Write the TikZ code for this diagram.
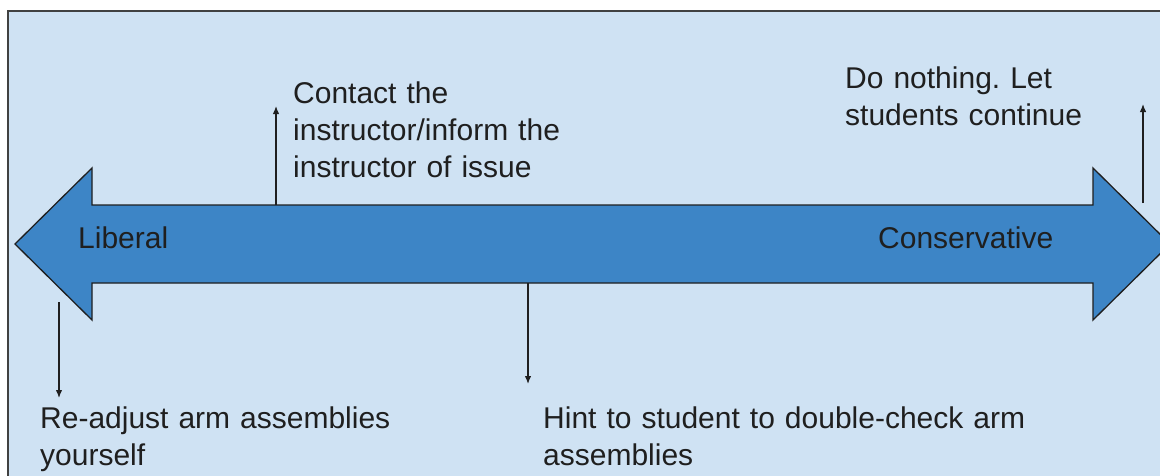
\documentclass[tikz,border=0pt]{standalone}
\usepackage{fontspec}
\setmainfont{Liberation Sans}
\usetikzlibrary{arrows.meta}
\definecolor{panel}{HTML}{CFE2F3}
\definecolor{band}{HTML}{3D85C6}
\definecolor{ink}{HTML}{1F1F1F}
\frenchspacing
\begin{document}
\begin{tikzpicture}[x=1pt,y=-1pt,
  label text/.style={inner sep=0pt, anchor=base west, align=left,
    text width=#1, text=ink, font=\fontsize{30}{37}\selectfont},
  label text/.default=400pt,
  pointer/.style={draw=ink, line width=1.3pt, -{Latex[length=8pt,width=6.5pt]}}]
  \useasboundingbox (0,0) rectangle (1160,475);
  \clip (0,0) rectangle (1160,475);
  % panel
  \draw[fill=panel, draw=ink!85, line width=1.8pt] (8,11) rectangle (1170,485);
  % two-headed scale
  \draw[fill=band, draw=ink, line width=1.3pt, line join=miter]
    (15,244) -- (92,168) -- (92,205) -- (1093,205) -- (1093,168) -- (1170,244)
    -- (1093,320) -- (1093,283) -- (92,283) -- (92,320) -- cycle;
  \node[label text=200pt] (lib) at (78,248) {Liberal};
  \node[label text=250pt] (con) at (878,248) {Conservative};
  % option texts
  \node[label text=330pt] (contact) at (293,103) {Contact the\\instructor/inform the\\instructor of issue};
  \node[label text=300pt] (nothing) at (845,88) {Do nothing. Let\\students continue};
  \node[label text=420pt] (readjust) at (40,428) {Re-adjust arm assemblies\\yourself};
  \node[label text=520pt] (hint) at (543,428) {Hint to student to double-check arm\\assemblies};
  % pointer ends
  \coordinate (c0) at (276,205);  \coordinate (c1) at (276,106);
  \coordinate (n0) at (1143,203); \coordinate (n1) at (1143,104);
  \coordinate (r0) at (59,302);   \coordinate (r1) at (59,398);
  \coordinate (h0) at (528,283);  \coordinate (h1) at (528,384);
  \draw[pointer] (c0) -- (c1);
  \draw[pointer] (n0) -- (n1);
  \draw[pointer] (r0) -- (r1);
  \draw[pointer] (h0) -- (h1);
\end{tikzpicture}
\end{document}
